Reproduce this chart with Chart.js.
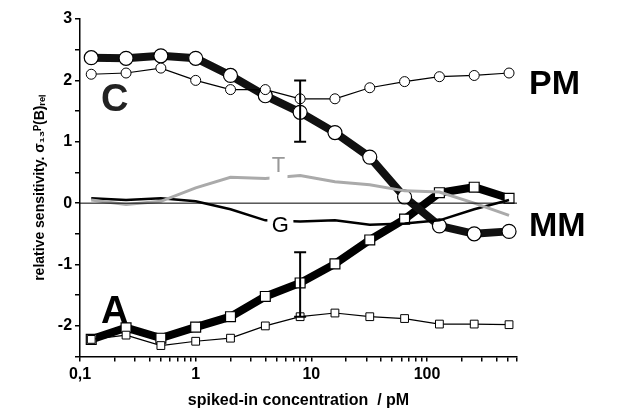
<!DOCTYPE html>
<html>
<head>
<script src="https://cdn.jsdelivr.net/npm/chart.js@4"></script>
<style>body{margin:0;background:#fff}#wrap{width:617px;height:416px}</style>
</head>
<body>
<div id="wrap"><canvas id="c"></canvas></div>
<script>
const conc = [0.125, 0.25, 0.5, 1, 2, 4, 8, 16, 32, 64, 128, 256, 512];
const seriesC = [2.37, 2.36, 2.4, 2.36, 2.08, 1.75, 1.48, 1.15, 0.75, 0.1, -0.37, -0.5, -0.46];
const seriesPM = [2.1, 2.12, 2.2, 2.0, 1.85, 1.85, 1.7, 1.7, 1.88, 1.98, 2.06, 2.08, 2.12];
const seriesA = [-2.22, -2.03, -2.2, -2.02, -1.85, -1.52, -1.3, -0.99, -0.6, -0.26, 0.17, 0.26, 0.08];
const seriesMM = [-2.22, -2.15, -2.32, -2.25, -2.2, -2.0, -1.85, -1.79, -1.85, -1.88, -1.97, -1.97, -1.98];
const seriesT = [0.05, -0.02, 0.03, 0.25, 0.42, 0.4, 0.45, 0.35, 0.3, 0.2, 0.18, 0.0, -0.2];
const seriesG = [0.08, 0.05, 0.08, 0.03, -0.1, -0.28, -0.3, -0.28, -0.35, -0.33, -0.28, -0.1, 0.05];
// error bars at 8 pM: [x, low, high]
const errBars = [[8, 1.0, 2.0], [8, -1.85, -0.8]];
const xMajor = [0.1, 1, 10, 100];
const xTickLabels = ['0,1', '1', '10', '100'];
const yTickLabels = [-2, -1, 0, 1, 2, 3];

const pts = arr => arr.map((v, i) => ({x: conc[i], y: v}));
const font = 'Liberation Sans, Arial, sans-serif';

const extras = {
  id: 'extras',
  afterDatasetsDraw(chart) {
    const {ctx, scales: {x, y}, chartArea: a} = chart;
    ctx.save();
    // zero line
    ctx.strokeStyle = '#000'; ctx.lineWidth = 1;
    ctx.beginPath(); ctx.moveTo(a.left, y.getPixelForValue(0)); ctx.lineTo(a.right, y.getPixelForValue(0)); ctx.stroke();
    // error bars
    ctx.lineWidth = 2;
    errBars.forEach(([xv, lo, hi]) => {
      const px = x.getPixelForValue(xv), p1 = y.getPixelForValue(lo), p2 = y.getPixelForValue(hi);
      ctx.beginPath();
      ctx.moveTo(px, p1); ctx.lineTo(px, p2);
      ctx.moveTo(px - 6, p1); ctx.lineTo(px + 6, p1);
      ctx.moveTo(px - 6, p2); ctx.lineTo(px + 6, p2);
      ctx.stroke();
    });
    // labels
    ctx.textAlign = 'center'; ctx.textBaseline = 'middle';
    ctx.font = 'bold 38px ' + font;
    ctx.fillStyle = '#222'; ctx.fillText('C', x.getPixelForValue(0.2), y.getPixelForValue(1.68));
    ctx.fillStyle = '#000'; ctx.fillText('A', x.getPixelForValue(0.2), y.getPixelForValue(-1.78));
    ctx.font = '22px ' + font;
    let px = x.getPixelForValue(5.2), py = y.getPixelForValue(0.6);
    ctx.fillStyle = '#fff'; ctx.fillRect(px - 9, y.getPixelForValue(0.52), 18, 10);
    ctx.fillStyle = '#999'; ctx.fillText('T', px, py);
    px = x.getPixelForValue(5.4); py = y.getPixelForValue(-0.37);
    ctx.fillStyle = '#fff'; ctx.fillRect(px - 13, py - 10, 26, 20);
    ctx.fillStyle = '#000'; ctx.fillText('G', px, py);
    ctx.font = 'bold 34px ' + font; ctx.textAlign = 'left';
    ctx.fillText('PM', a.right + 12, y.getPixelForValue(1.93));
    ctx.fillText('MM', a.right + 12, y.getPixelForValue(-0.38));
    ctx.restore();
  }
};

new Chart(document.getElementById('c'), {
  type: 'line',
  data: {
    datasets: [
      {data: pts(seriesT), borderColor: '#aaa', borderWidth: 3, pointRadius: 0},
      {data: pts(seriesG), borderColor: '#000', borderWidth: 2.5, pointRadius: 0},
      {data: pts(seriesPM), borderColor: '#000', borderWidth: 1.2, pointStyle: 'circle', pointRadius: 5, pointBackgroundColor: '#fff', pointBorderColor: '#000', pointBorderWidth: 1},
      {data: pts(seriesMM), borderColor: '#000', borderWidth: 1.2, pointStyle: 'rect', pointRadius: 5.5, pointBackgroundColor: '#fff', pointBorderColor: '#000', pointBorderWidth: 1},
      {data: pts(seriesC), borderColor: '#111', borderWidth: 8, pointStyle: 'circle', pointRadius: 7, pointBackgroundColor: '#fff', pointBorderColor: '#000', pointBorderWidth: 1.2},
      {data: pts(seriesA), borderColor: '#000', borderWidth: 8, pointStyle: 'rect', pointRadius: 7, pointBackgroundColor: '#fff', pointBorderColor: '#000', pointBorderWidth: 1.2}
    ]
  },
  options: {
    responsive: true, maintainAspectRatio: false, animation: false,
    layout: {padding: {top: 19, right: 100, left: 28, bottom: 2}},
    plugins: {legend: {display: false}, tooltip: {enabled: false}},
    scales: {
      x: {
        type: 'logarithmic', min: 0.1, max: 600,
        afterBuildTicks: s => {
          const t = [];
          [0.1, 1, 10, 100].forEach(d => { for (let k = 1; k < 10; k++) if (d * k <= 600) t.push({value: d * k}); });
          s.ticks = t;
        },
        ticks: {autoSkip: false, maxRotation: 0, color: '#000', font: {family: font, size: 16, weight: 'bold'},
          callback: v => { const i = xMajor.findIndex(m => Math.abs(m - v) < 1e-9); return i >= 0 ? xTickLabels[i] : ''; }},
        grid: {drawOnChartArea: false, tickLength: 5, color: '#000', lineWidth: 1.5},
        border: {color: '#000', width: 1.5},
        title: {display: true, text: 'spiked-in concentration  / pM', color: '#000', font: {family: font, size: 16, weight: 'bold'}, padding: {top: 4}}
      },
      y: {
        min: -2.5, max: 3,
        afterBuildTicks: s => { const t = []; for (let v = -2.5; v <= 3; v += 0.5) t.push({value: v}); s.ticks = t; },
        ticks: {autoSkip: false, color: '#000', font: {family: font, size: 16, weight: 'bold'},
          callback: v => yTickLabels.includes(v) ? String(v) : ''},
        grid: {drawOnChartArea: false, tickLength: 5, color: '#000', lineWidth: 1.5},
        border: {color: '#000', width: 1.5},
        title: {display: true, text: 'relative sensitivity. σ₁₃ᴾ(B)ᵣₑₗ', color: '#000', font: {family: font, size: 14, weight: 'bold'}, padding: {bottom: 6}}
      }
    }
  },
  plugins: [extras]
});
</script>
</body>
</html>
